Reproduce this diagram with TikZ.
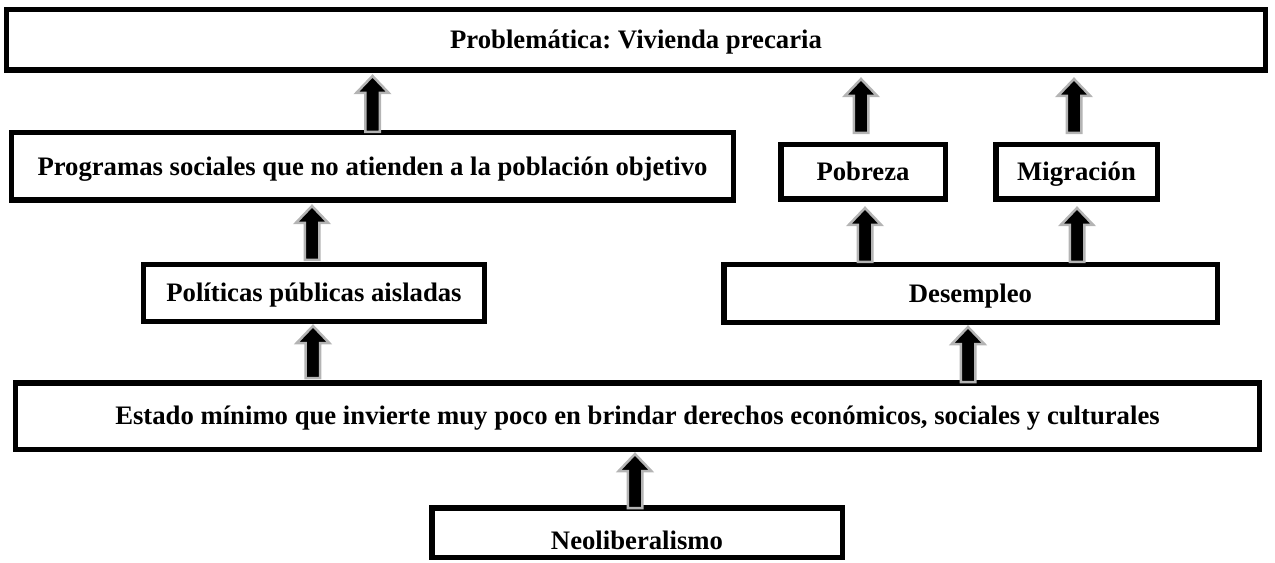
\documentclass[tikz,border=0pt]{standalone}
\usepackage{fontspec}
\setmainfont{Liberation Serif}
\usetikzlibrary{calc}
\definecolor{arrowgray}{HTML}{B4B4B4}
\frenchspacing
\tikzset{
  box/.style={draw=black, line width=5.5bp, inner sep=0pt,
    text height=17.5bp, text depth=0pt,
    font=\fontsize{26.8}{30}\selectfont\bfseries, text=black},
  uparrow/.style={fill=black, draw=arrowgray, line width=2.5bp, line join=miter,
    to path={let \p1=(\tikztostart), \p2=(\tikztotarget) in
      (\x1-7.25bp,\y1) -- (\x1-7.25bp,\y2-17bp) -- (\x1-16.25bp,\y2-17bp) --
      (\x1,\y2) -- (\x1+16.25bp,\y2-17bp) -- (\x1+7.25bp,\y2-17bp) --
      (\x1+7.25bp,\y1) -- cycle}},
}
\begin{document}
\begin{tikzpicture}[x=1bp,y=-1bp]
\useasboundingbox (0,0) rectangle (1275,563);
\node[box, minimum width=1258.5bp, minimum height=60.5bp] (top) at (636,40) {Problemática: Vivienda precaria};
\node[box, minimum width=721.5bp, minimum height=67.5bp] (prog) at (372.5,166.5) {Programas sociales que no atienden a la población objetivo};
\node[box, minimum width=164.5bp, minimum height=54.5bp] (pob) at (863,172) {Pobreza};
\node[box, minimum width=161.5bp, minimum height=54.5bp] (mig) at (1076.5,172) {Migración};
\node[box, minimum width=340.5bp, minimum height=56.5bp] (pol) at (314,293) {Políticas públicas aisladas};
\node[box, minimum width=493.5bp, minimum height=57.5bp] (des) at (970.5,293.5) {Desempleo};
\node[box, minimum width=1243.5bp, minimum height=66.5bp] (est) at (637.5,416) {Estado mínimo que invierte muy poco en brindar derechos económicos, sociales y culturales};
\node[box, minimum width=410.5bp, minimum height=49.5bp] (neo) at (637,532.5) {\raisebox{-8.5bp}[\height][0pt]{Neoliberalismo}};

\draw[uparrow] ([yshift=-2bp]prog.north) to ([yshift=-3bp]top.south);
\draw[uparrow] ([xshift=-2bp,yshift=9bp]pob.north) to ([yshift=-6bp]top.south);
\draw[uparrow] ([xshift=-2.5bp,yshift=9bp]mig.north) to ([yshift=-6bp]top.south);
\draw[uparrow] ([xshift=-2bp,yshift=2bp]pol.north) to ([yshift=-3bp]prog.south);
\draw[uparrow] ([xshift=-105.5bp]des.north) to ([yshift=-6bp]pob.south);
\draw[uparrow] ([xshift=106.5bp]des.north) to ([yshift=-6bp]mig.south);
\draw[uparrow] ([xshift=-324.5bp,yshift=2bp]est.north) to ([yshift=-2bp]pol.south);
\draw[uparrow] ([xshift=330.5bp,yshift=-2bp]est.north) to ([yshift=-2bp]des.south);
\draw[uparrow] ([xshift=-2bp,yshift=-3bp]neo.north) to ([yshift=-2bp]est.south);
\end{tikzpicture}
\end{document}
